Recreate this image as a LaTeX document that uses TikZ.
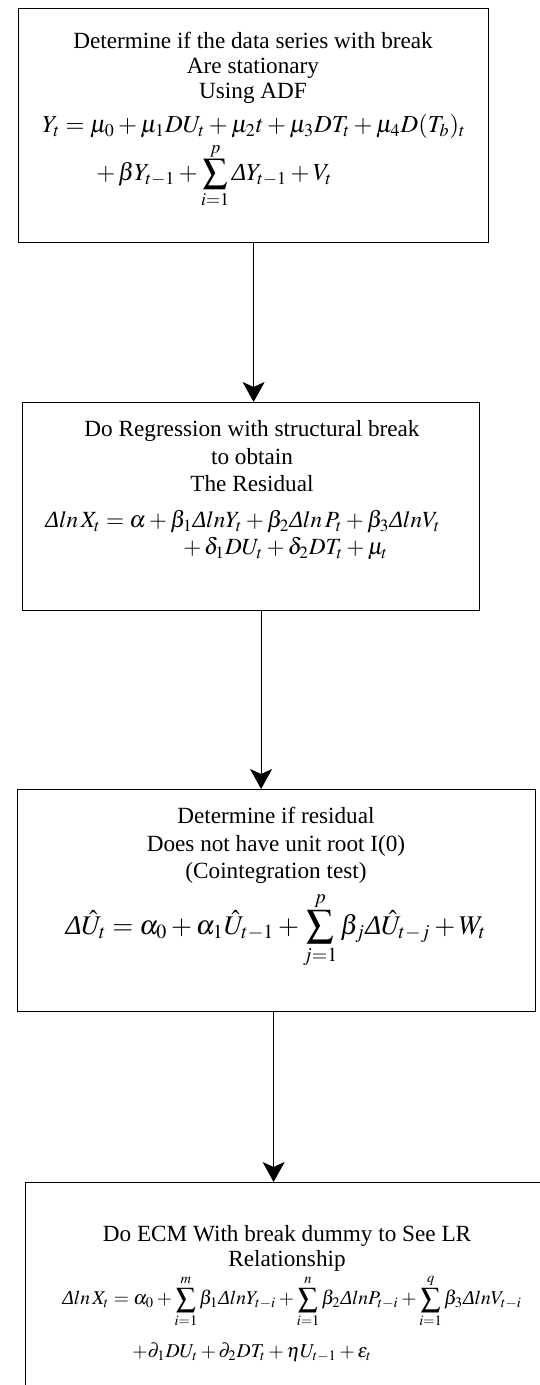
\documentclass[tikz,border=0pt]{standalone}
\usepackage{mathptmx}
\usepackage[no-math]{fontspec}
\setmainfont{Liberation Serif}
\usetikzlibrary{arrows.meta}

% slanted Delta as in the source
\newcommand{\dlt}{\mbox{\itshape Δ}}

\tikzset{
    stepbox/.style={draw, line width=0.6pt, inner sep=0pt},
    caption/.style={align=center, inner sep=0pt, font=\fontsize{11.6}{12.5}\selectfont},
    formula/.style={align=left, inner sep=0pt},
    flow/.style={-{Stealth[length=10pt,width=11pt,inset=2.5pt]}, line width=0.5pt}
}

\begin{document}
\begin{tikzpicture}[x=0.5pt, y=-0.5pt]

    \useasboundingbox (0,0) rectangle (540,1385);

    % boxes
    \node[stepbox, anchor=north west, minimum width=235pt, minimum height=117pt] (adf) at (18,8) {};
    \node[stepbox, anchor=north west, minimum width=228.5pt, minimum height=104pt] (reg) at (22,402) {};
    \node[stepbox, anchor=north west, minimum width=259pt, minimum height=111pt] (coint) at (17,789) {};
    \node[stepbox, anchor=north west, minimum width=261.5pt, minimum height=109pt] (ecm) at (25,1182) {};

    % texts
    \node[caption, anchor=north] (adftext) at (253,32)
        {Determine if the data series with break\\Are stationary\\Using ADF};
    \node[formula, anchor=north west, font=\fontsize{12.2}{13}\selectfont] (adfeq) at (42,114)
        {$Y_t = \mu_0 + \mu_1 DU_t + \mu_2 t + \mu_3 DT_t + \mu_4 D(T_b)_t$\\[1pt]
         \hspace{27pt}$+\, \beta Y_{t-1} + \displaystyle\sum_{i=1}^{p} \dlt Y_{t-1} + V_t$};

    \node[caption, anchor=north, font=\fontsize{11.6}{13.8}\selectfont] (regtext) at (252,420)
        {Do Regression with structural break\\to obtain\\The Residual};
    \node[formula, anchor=north west, font=\fontsize{11.6}{13.5}\selectfont] (regeq) at (45,510)
        {$\dlt ln\, X_t = \alpha + \beta_1 \dlt ln Y_t + \beta_2 \dlt ln\, P_t + \beta_3 \dlt ln V_t$\\
         \hspace{69pt}$+\, \delta_1 DU_t + \delta_2 DT_t + \mu_t$};

    \node[caption, anchor=north, font=\fontsize{11.6}{13.8}\selectfont] (cointtext) at (276,807)
        {Determine if residual\\Does not have unit root I(0)\\(Cointegration test)};
    \node[formula, anchor=base, font=\fontsize{13.5}{16}\selectfont] (cointeq) at (276,934)
        {$\dlt\hat{U}_t = \alpha_0 + \alpha_1 \hat{U}_{t-1} + \displaystyle\sum_{j=1}^{p} \beta_j \dlt\hat{U}_{t-j} + W_t$};

    \node[caption, anchor=north] (ecmtext) at (287,1225)
        {Do ECM With break dummy to See LR\\Relationship};
    \node[formula, anchor=north west, font=\fontsize{9.8}{11.5}\selectfont] (ecmeq) at (62,1274)
        {$\dlt ln\, X_t = \alpha_0 + \displaystyle\sum_{i=1}^{m} \beta_1 \dlt ln Y_{t-i} + \sum_{i=1}^{n} \beta_2 \dlt ln P_{t-i} + \sum_{i=1}^{q} \beta_3 \dlt ln V_{t-i}$\\[7pt]
         \hspace{35pt}$+\partial_1 DU_t + \partial_2 DT_t + \eta U_{t-1} + \varepsilon_t$};

    % arrows
    \draw[flow] (adf.south) -- (adf.south |- reg.north);
    \draw[flow] ([xshift=5pt]reg.south) -- ([xshift=5pt]reg.south |- coint.north);
    \draw[flow] ([xshift=-1.5pt]coint.south) -- ([xshift=-1.5pt]coint.south |- ecm.north);

\end{tikzpicture}
\end{document}
